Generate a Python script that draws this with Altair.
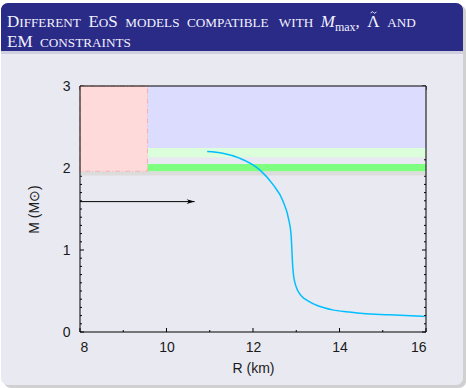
import altair as alt
import pandas as pd

# ---------------- data ----------------
curve_R = [10.94, 11.30, 11.69, 12.15, 12.46, 12.69, 12.83, 12.88, 12.92, 12.94,
           12.97, 13.03, 13.12, 13.27, 13.50, 13.84, 14.20, 14.54, 15.15, 15.97]
curve_M = [2.20, 2.18, 2.12, 1.98, 1.80, 1.60, 1.36, 1.19, 0.79, 0.68,
           0.60, 0.51, 0.44, 0.38, 0.32, 0.27, 0.245, 0.225, 0.21, 0.19]

band_name = ["psr", "lowR", "maxM", "lambda", "em"]
band_R0 = [8.0, 8.0, 9.56, 9.56, 9.56]
band_R1 = [16.0, 9.56, 16.0, 16.0, 16.0]
band_M0 = [1.91, 1.96, 2.245, 2.13, 1.96]
band_M1 = [1.96, 3.0, 3.0, 2.245, 2.05]
band_colors = ["#DCDCDC", "#FFDADA", "#DCDCFF", "#DAFFDA", "#7FFF7F"]

arrow_R = [8.0, 10.65]
arrow_M = [1.59, 1.59]

x_ticks = [8, 10, 12, 14, 16]
x_minor = [9, 11, 13, 15]
y_ticks = [0, 1, 2, 3]
y_minor = [0.1, 0.2, 0.3, 0.4, 0.5, 0.6, 0.7, 0.8, 0.9,
           1.1, 1.2, 1.3, 1.4, 1.5, 1.6, 1.7, 1.8, 1.9,
           2.1, 2.2, 2.3, 2.4, 2.5, 2.6, 2.7, 2.8, 2.9]

x_title = "R (km)"
y_title = "M (M⊙)"

# ---------------- layout ----------------
W, H = 346, 246
OX, OY = 80, 86
FONT = "Liberation Sans"
SERIF = "Liberation Serif"

xs = alt.Scale(domain=[8, 16], nice=False, zero=False)
ys = alt.Scale(domain=[0, 3], nice=False, zero=False)
xaxis = alt.Axis(values=x_ticks, title=x_title, labelPadding=8, titlePadding=7,
                 zindex=2, grid=False, domain=False, ticks=False)
yaxis = alt.Axis(values=y_ticks, title=y_title, labelPadding=10, titlePadding=21,
                 format="d", zindex=2, grid=False, domain=False, ticks=False)


def X(f):
    return alt.X(f, scale=xs, axis=xaxis)


def Y(f):
    return alt.Y(f, scale=ys, axis=yaxis)


one = pd.DataFrame({"k": [0]})


def box(x0, x1, y0, y1, **kw):
    return alt.Chart(one).mark_rect(**kw).encode(
        x=alt.value(x0 - OX), x2=alt.value(x1 - OX),
        y=alt.value(y0 - OY), y2=alt.value(y1 - OY))


layers = []
# block shadow, body, title bar
layers.append(box(4, 466, 5, 388, color="#AAAAAA", opacity=0.55, cornerRadius=7))
layers.append(box(1, 463, 3, 385, color="#E9E9F2", cornerRadius=7))
layers.append(box(1, 463, 3, 51, color="#2A2A87",
                  cornerRadiusTopLeft=7, cornerRadiusTopRight=7))
layers.append(box(1, 463, 51, 54, color="#C8C8DA", opacity=0.8))

# title in small caps (large capital + small capitals), laid out word by word
TM = dict(A=.722, B=.667, C=.667, D=.722, E=.611, F=.556, G=.722, H=.722, I=.333,
          J=.389, K=.722, L=.611, M=.889, N=.722, O=.722, P=.556, Q=.722, R=.667,
          S=.556, T=.611, U=.722, V=.722, W=.944, X=.722, Y=.722, Z=.611)
TM.update({" ": .25, ",": .25, "m": .778, "a": .444, "x": .5, "Λ": .722})
CAP, SML, SUB, SP = 17, 13.2, 12, 7.5
TCOL = "#F2F2FF"


def frag_width(t, size, italic=False):
    if italic and t == "M":
        return .833 * size
    return sum(TM.get(c, 0) for c in t) * size


def text_layer(t, x, y, sz, st="normal", align="left"):
    return alt.Chart(pd.DataFrame({"t": [t]})).mark_text(
        font=SERIF, fontSize=sz, fontStyle=st, align=align,
        baseline="alphabetic", color=TCOL
    ).encode(x=alt.value(x - OX), y=alt.value(y - OY), text="t:N")


line1 = [[("D", CAP, "normal", 0), ("IFFERENT", SML, "normal", 0)],
         [("E", CAP, "normal", 0), ("O", SML, "normal", 0), ("S", CAP, "normal", 0)],
         [("MODELS", SML, "normal", 0)],
         [("COMPATIBLE", SML, "normal", 0)],
         [("WITH", SML, "normal", 0)],
         [("M", CAP, "italic", 0), ("max", SUB, "normal", 3.5), (",", CAP, "normal", 0)],
         [("Λ", CAP, "normal", 0)],
         [("AND", SML, "normal", 0)]]
line2 = [[("E", CAP, "normal", 0), ("M", CAP, "normal", 0)],
         [("CONSTRAINTS", SML, "normal", 0)]]

tilde_pos = []
for line, base in ((line1, 27), (line2, 46.5)):
    xcur = 7.0
    for word in line:
        for t, sz, st, dy in word:
            layers.append(text_layer(t, xcur, base + dy, sz, st))
            w = frag_width(t, sz, st == "italic")
            if t == "Λ":
                tilde_pos.append((xcur + w / 2, base - 14.5))
            xcur += w
        xcur += SP

# tilde accent drawn as a small stroked path
for tx, ty in tilde_pos:
    layers.append(alt.Chart(one).mark_point(
        shape="M-1,0.25C-0.55,-0.45 -0.3,-0.35 0,0C0.3,0.35 0.55,0.45 1,-0.25",
        filled=False, size=30, stroke=TCOL, strokeWidth=1, opacity=1
    ).encode(x=alt.value(tx - OX), y=alt.value(ty - OY)))


# tick marks (inward), drawn below the coloured regions
def yticks(vals, x0, x1):
    return alt.Chart(pd.DataFrame({"v": vals})).mark_rule(color="black", strokeWidth=1).encode(
        y=Y("v:Q"), x=alt.value(x0), x2=alt.value(x1))


def xticks(vals, y0, y1):
    return alt.Chart(pd.DataFrame({"v": vals})).mark_rule(color="black", strokeWidth=1).encode(
        x=X("v:Q"), y=alt.value(y0), y2=alt.value(y1))


layers += [yticks(y_ticks, 0, 4), yticks(y_minor, 0, 2),
           yticks(y_ticks, W - 4, W), yticks(y_minor, W - 2, W),
           xticks(x_ticks, H, H - 4), xticks(x_minor, H, H - 2),
           xticks(x_ticks, 0, 4), xticks(x_minor, 0, 2)]

bands = pd.DataFrame({"name": band_name, "r0": band_R0, "r1": band_R1,
                      "m0": band_M0, "m1": band_M1})
layers.append(alt.Chart(bands).mark_rect().encode(
    x=X("r0:Q"), x2="r1:Q", y=Y("m0:Q"), y2="m1:Q",
    color=alt.Color("name:N", scale=alt.Scale(domain=band_name, range=band_colors),
                    legend=None)))

pink = bands[bands["name"] == "lowR"]
layers.append(alt.Chart(pink).mark_rect(
    fillOpacity=0, stroke="#F6B0B0", strokeWidth=1, strokeDash=[5, 2, 1, 2]).encode(
    x=X("r0:Q"), x2="r1:Q", y=Y("m0:Q"), y2="m1:Q"))

curve = pd.DataFrame({"R": curve_R, "M": curve_M})
layers.append(alt.Chart(curve).mark_line(
    color="#00BFFF", strokeWidth=1.5, interpolate="monotone").encode(
    x=X("R:Q"), y=Y("M:Q")))

arrow = pd.DataFrame({"R": arrow_R, "M": arrow_M})
layers.append(alt.Chart(arrow).mark_line(color="black", strokeWidth=1).encode(
    x=X("R:Q"), y=Y("M:Q")))
layers.append(alt.Chart(arrow.tail(1)).mark_point(
    shape="M0,0L-2,-0.6L-1.4,0L-2,0.6Z", filled=True, size=64, color="black",
    opacity=1).encode(x=X("R:Q"), y=Y("M:Q")))

# frame
layers.append(alt.Chart(one).mark_rect(fillOpacity=0, stroke="black", strokeWidth=1).encode(
    x=alt.value(0), x2=alt.value(W), y=alt.value(0), y2=alt.value(H)))

chart = alt.layer(*layers).properties(
    width=W, height=H,
    autosize=alt.AutoSizeParams(type="none"),
    padding={"left": OX, "top": OY, "right": 466 - OX - W, "bottom": 388 - OY - H},
    background="white",
).configure_view(stroke=None).configure_axis(
    labelFont=FONT, labelFontSize=14, labelColor="#1A1A1A",
    titleFont=FONT, titleFontSize=14, titleFontWeight="normal", titleColor="#1A1A1A")

chart.save("out.html", embed_options={"renderer": "svg", "actions": False})
